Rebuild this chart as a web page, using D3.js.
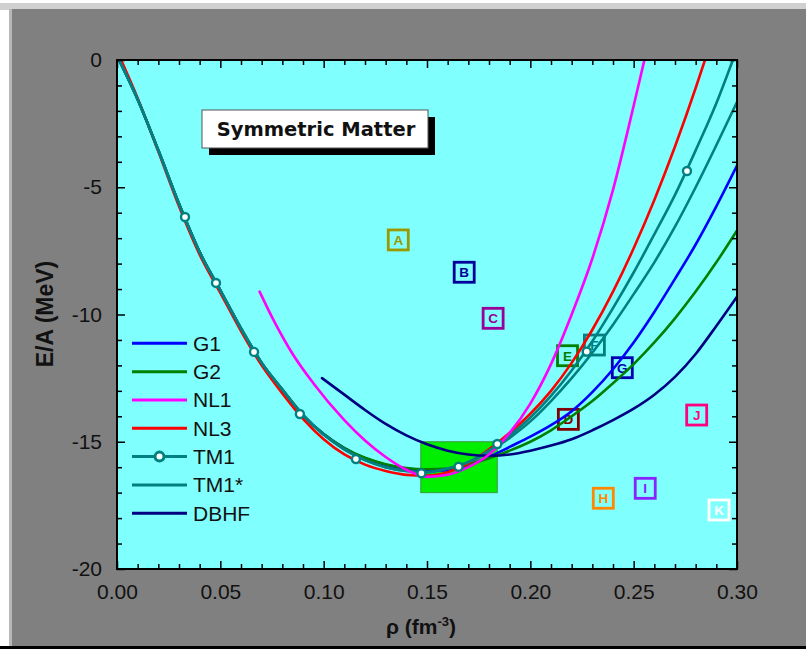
<!DOCTYPE html>
<html>
<head>
<meta charset="utf-8">
<script src="https://cdn.jsdelivr.net/npm/d3@7"></script>
<style>
  body { margin: 0; background: #ffffff; }
  svg { display: block; }
</style>
</head>
<body>
<svg id="chart" width="806" height="649"></svg>
<script>
// ---------------- DATA ----------------
const xTicks = [0.00, 0.05, 0.10, 0.15, 0.20, 0.25, 0.30];
const xTickLabels = ["0.00", "0.05", "0.10", "0.15", "0.20", "0.25", "0.30"];
const yTicks = [0, -5, -10, -15, -20];
const yTickLabels = ["0", "-5", "-10", "-15", "-20"];

const seriesNames = ["G1", "G2", "NL1", "NL3", "TM1", "TM1*", "DBHF"];
const seriesColors = ["#0000ff", "#008000", "#ff00ff", "#ff0000", "#008080", "#008080", "#000080"];

const G1 = [[0.001,0],[0.01,-1.55],[0.02,-3.55],[0.03,-5.65],[0.04,-7.55],[0.05,-9.05],[0.06,-10.55],[0.07,-11.9],[0.08,-12.95],[0.09,-13.95],[0.10,-14.7],[0.11,-15.25],[0.12,-15.65],[0.13,-15.9],[0.14,-16.08],[0.15,-16.15],[0.16,-16.12],[0.17,-15.92],[0.18,-15.6],[0.19,-15.2],[0.20,-14.8],[0.21,-14.35],[0.22,-13.8],[0.23,-13.05],[0.24,-12.15],[0.25,-11.1],[0.26,-9.9],[0.27,-8.6],[0.28,-7.25],[0.29,-5.75],[0.30,-4.15]];
const G2 = [[0.001,0],[0.01,-1.55],[0.02,-3.55],[0.03,-5.65],[0.04,-7.55],[0.05,-9.05],[0.06,-10.55],[0.07,-11.9],[0.08,-12.95],[0.09,-13.95],[0.10,-14.7],[0.11,-15.25],[0.12,-15.63],[0.13,-15.88],[0.14,-16.03],[0.15,-16.08],[0.16,-16.05],[0.17,-15.9],[0.18,-15.65],[0.19,-15.35],[0.20,-15.0],[0.21,-14.55],[0.22,-14.0],[0.23,-13.4],[0.24,-12.7],[0.25,-11.95],[0.26,-11.1],[0.27,-10.15],[0.28,-9.1],[0.29,-7.95],[0.30,-6.7]];
const NL1 = [[0.069,-9.1],[0.075,-10.1],[0.085,-11.55],[0.095,-12.7],[0.11,-14.15],[0.12,-14.95],[0.13,-15.6],[0.14,-16.1],[0.15,-16.38],[0.16,-16.3],[0.17,-16.0],[0.18,-15.5],[0.19,-14.65],[0.20,-13.5],[0.21,-11.95],[0.22,-10.0],[0.23,-7.8],[0.24,-5.1],[0.25,-1.8],[0.2552,0]];
const NL3 = [[0.002,0],[0.01,-1.5],[0.02,-3.6],[0.03,-5.75],[0.04,-7.65],[0.05,-9.15],[0.06,-10.65],[0.07,-12.0],[0.08,-13.1],[0.09,-14.1],[0.10,-14.9],[0.11,-15.5],[0.12,-15.9],[0.13,-16.15],[0.14,-16.3],[0.15,-16.33],[0.16,-16.2],[0.17,-15.85],[0.18,-15.3],[0.19,-14.65],[0.20,-13.9],[0.21,-13.0],[0.22,-11.9],[0.23,-10.6],[0.24,-9.1],[0.25,-7.4],[0.26,-5.5],[0.27,-3.4],[0.28,-1.1],[0.2845,0]];
const TM1 = [[0.001,0],[0.01,-1.55],[0.02,-3.55],[0.03,-5.65],[0.04,-7.55],[0.05,-9.05],[0.06,-10.55],[0.07,-11.9],[0.08,-12.95],[0.09,-13.95],[0.10,-14.72],[0.11,-15.3],[0.12,-15.72],[0.13,-16.0],[0.14,-16.15],[0.15,-16.2],[0.16,-16.05],[0.17,-15.8],[0.18,-15.35],[0.19,-14.75],[0.20,-14.05],[0.21,-13.2],[0.22,-12.2],[0.23,-11.05],[0.24,-9.75],[0.25,-8.35],[0.26,-6.85],[0.27,-5.3],[0.28,-3.55],[0.29,-1.7],[0.298,0]];
const TM1star = [[0.001,0],[0.01,-1.55],[0.02,-3.55],[0.03,-5.65],[0.04,-7.55],[0.05,-9.05],[0.06,-10.55],[0.07,-11.9],[0.08,-12.95],[0.09,-13.95],[0.10,-14.72],[0.11,-15.3],[0.12,-15.72],[0.13,-16.0],[0.14,-16.15],[0.15,-16.2],[0.16,-16.05],[0.17,-15.8],[0.18,-15.4],[0.19,-14.85],[0.20,-14.2],[0.21,-13.4],[0.22,-12.5],[0.23,-11.5],[0.24,-10.4],[0.25,-9.2],[0.26,-7.95],[0.27,-6.55],[0.28,-5.0],[0.29,-3.35],[0.30,-1.65]];
const DBHF = [[0.0992,-12.5],[0.11,-13.15],[0.12,-13.75],[0.13,-14.3],[0.14,-14.75],[0.15,-15.1],[0.16,-15.35],[0.17,-15.5],[0.18,-15.55],[0.19,-15.5],[0.20,-15.35],[0.21,-15.15],[0.22,-14.9],[0.23,-14.55],[0.24,-14.15],[0.25,-13.7],[0.26,-13.15],[0.27,-12.45],[0.28,-11.55],[0.29,-10.45],[0.30,-9.3]];

// TM1 symbol positions
const tm1MarkerRho = [0.0329, 0.0479, 0.0663, 0.0885, 0.1156, 0.1473, 0.1653, 0.184, 0.2273, 0.2758];
const tm1MarkerE   = [-6.17, -8.76, -11.47, -13.91, -15.68, -16.24, -15.98, -15.09, -11.46, -4.36];

// Lettered data boxes
const boxLetters = ["A", "B", "C", "D", "E", "F", "G", "H", "I", "J", "K"];
const boxRho     = [0.1361, 0.168, 0.182, 0.2184, 0.218, 0.231, 0.2445, 0.2353, 0.2556, 0.2805, 0.2913];
const boxE       = [-7.07, -8.34, -10.15, -14.12, -11.62, -11.2, -12.09, -17.22, -16.83, -13.95, -17.68];
const boxColors  = ["#999900", "#000099", "#990099", "#800000", "#008000", "#008080", "#0000b0", "#ff8800", "#8822ff", "#ff0080", "#ffffff"];

// Saturation region
const satRho = [0.147, 0.184];
const satE = [-15.0, -17.0];

const titleText = "Symmetric Matter";

// ---------------- DRAW ----------------
const svg = d3.select("#chart");
const W = 806, H = 649;
const L = 117, R = 737, T = 60, B = 569;

// Page background
svg.append("rect").attr("x", 0).attr("y", 0).attr("width", W).attr("height", H).attr("fill", "#ffffff");
svg.append("rect").attr("x", 0).attr("y", 3).attr("width", W).attr("height", 7).attr("fill", "#d0d0d0");
svg.append("rect").attr("x", 9).attr("y", 9).attr("width", W - 9).attr("height", H - 9).attr("fill", "#b8b8b8");
svg.append("rect").attr("x", 12).attr("y", 9).attr("width", W - 12).attr("height", H - 9).attr("fill", "#808080");
svg.append("rect").attr("x", 0).attr("y", 646).attr("width", W).attr("height", 3).attr("fill", "#000000");

const x = d3.scaleLinear().domain([0, 0.30]).range([L, R]);
const y = d3.scaleLinear().domain([-20, 0]).range([B, T]);

// Plot area
svg.append("rect").attr("x", L).attr("y", T).attr("width", R - L).attr("height", B - T).attr("fill", "#80ffff");

svg.append("defs").append("clipPath").attr("id", "clip")
  .append("rect").attr("x", L).attr("y", T).attr("width", R - L).attr("height", B - T);

const plot = svg.append("g").attr("clip-path", "url(#clip)");

// Saturation rectangle
plot.append("rect")
  .attr("x", x(satRho[0])).attr("y", y(satE[0]))
  .attr("width", x(satRho[1]) - x(satRho[0]))
  .attr("height", y(satE[1]) - y(satE[0]))
  .attr("fill", "#00ee00").attr("stroke", "#3a9a3a").attr("stroke-width", 1);

// Title box
const tb = { x: 202, y: 110, w: 226, h: 38 };
svg.append("rect").attr("x", tb.x + 7).attr("y", tb.y + 7).attr("width", tb.w).attr("height", tb.h).attr("fill", "#000");
svg.append("rect").attr("x", tb.x).attr("y", tb.y).attr("width", tb.w).attr("height", tb.h)
  .attr("fill", "#fff").attr("stroke", "#555").attr("stroke-width", 1);
svg.append("text").attr("x", tb.x + tb.w / 2 + 1).attr("y", tb.y + 26)
  .attr("text-anchor", "middle")
  .attr("font-family", "DejaVu Sans, Verdana, sans-serif").attr("font-weight", "bold")
  .attr("font-size", 19.5).attr("fill", "#111").text(titleText);

// Lettered boxes
boxLetters.forEach((ltr, i) => {
  const cx = x(boxRho[i]), cy = y(boxE[i]);
  const g = plot.append("g");
  g.append("rect").attr("x", cx - 10).attr("y", cy - 10).attr("width", 20).attr("height", 20)
    .attr("fill", "none").attr("stroke", boxColors[i]).attr("stroke-width", 2.8);
  g.append("text").attr("x", cx).attr("y", cy + 5).attr("text-anchor", "middle")
    .attr("font-family", "Liberation Sans, Arial, sans-serif").attr("font-weight", "bold")
    .attr("font-size", 13.5).attr("fill", boxColors[i]).text(ltr);
});

// Curves
const line = d3.line().x(d => x(d[0])).y(d => y(d[1])).curve(d3.curveMonotoneX);
const allSeries = [G1, G2, NL1, NL3, TM1, TM1star, DBHF];
const order = [0, 1, 3, 5, 4, 6, 2];
order.forEach(i => {
  plot.append("path").datum(allSeries[i])
    .attr("d", line).attr("fill", "none")
    .attr("stroke", seriesColors[i]).attr("stroke-width", 2.6)
    .attr("stroke-linejoin", "round").attr("stroke-linecap", "round");
});

// TM1 markers
plot.selectAll("circle.tm1").data(tm1MarkerRho).join("circle")
  .attr("class", "tm1")
  .attr("cx", d => x(d)).attr("cy", (d, i) => y(tm1MarkerE[i]))
  .attr("r", 4).attr("fill", "#ffffff").attr("stroke", "#008080").attr("stroke-width", 2.4);

// Axes
const tickFont = "Liberation Sans, Arial, sans-serif";
const minorX = d3.range(0, 31).map(k => k / 100).filter(v => Math.round(v * 100) % 5 !== 0);
const minorY = d3.range(-20, 1).filter(v => v % 5 !== 0);

function styleAxis(g) {
  g.select(".domain").remove();
  g.selectAll(".tick line").attr("stroke", "#000").attr("stroke-width", 1.5);
  g.selectAll(".tick text").attr("font-family", tickFont).attr("font-size", 21).attr("fill", "#111");
}

svg.append("g").attr("transform", `translate(0,${B})`)
  .call(d3.axisBottom(x).tickValues(xTicks).tickSize(-8).tickPadding(15)
    .tickFormat((d, i) => xTickLabels[i]))
  .call(styleAxis);
svg.append("g").attr("transform", `translate(0,${B})`)
  .call(d3.axisBottom(x).tickValues(minorX).tickSize(-5).tickFormat(""))
  .call(styleAxis);
svg.append("g").attr("transform", `translate(0,${T})`)
  .call(d3.axisTop(x).tickValues(xTicks).tickSize(-8).tickFormat(""))
  .call(styleAxis);
svg.append("g").attr("transform", `translate(0,${T})`)
  .call(d3.axisTop(x).tickValues(minorX).tickSize(-5).tickFormat(""))
  .call(styleAxis);

svg.append("g").attr("transform", `translate(${L},0)`)
  .call(d3.axisLeft(y).tickValues(yTicks).tickSize(-8).tickPadding(15)
    .tickFormat((d, i) => yTickLabels[i]))
  .call(styleAxis);
svg.append("g").attr("transform", `translate(${L},0)`)
  .call(d3.axisLeft(y).tickValues(minorY).tickSize(-5).tickFormat(""))
  .call(styleAxis);
svg.append("g").attr("transform", `translate(${R},0)`)
  .call(d3.axisRight(y).tickValues(yTicks).tickSize(-8).tickFormat(""))
  .call(styleAxis);
svg.append("g").attr("transform", `translate(${R},0)`)
  .call(d3.axisRight(y).tickValues(minorY).tickSize(-5).tickFormat(""))
  .call(styleAxis);

// Plot frame
svg.append("rect").attr("x", L).attr("y", T).attr("width", R - L).attr("height", B - T)
  .attr("fill", "none").attr("stroke", "#000").attr("stroke-width", 2);

// Axis titles
svg.append("text")
  .attr("transform", `translate(53,314) rotate(-90)`)
  .attr("text-anchor", "middle")
  .attr("font-family", "Liberation Sans, Arial, sans-serif").attr("font-weight", "bold")
  .attr("font-size", 23).attr("fill", "#111").text("E/A (MeV)");

const xt = svg.append("text").attr("x", 421).attr("y", 634).attr("text-anchor", "middle")
  .attr("font-family", "Liberation Sans, Arial, sans-serif").attr("font-weight", "bold")
  .attr("font-size", 21).attr("fill", "#111");
xt.append("tspan").text("ρ (fm");
xt.append("tspan").attr("font-size", 13).attr("dy", -8).text("-3");
xt.append("tspan").attr("dy", 8).text(")");

// Legend
const legX0 = 132, legX1 = 187, legY0 = 343.3, legDy = 28.33;
seriesNames.forEach((name, i) => {
  const ly = legY0 + i * legDy;
  svg.append("line").attr("x1", legX0).attr("x2", legX1).attr("y1", ly).attr("y2", ly)
    .attr("stroke", seriesColors[i]).attr("stroke-width", 3);
  if (name === "TM1") {
    svg.append("circle").attr("cx", (legX0 + legX1) / 2).attr("cy", ly).attr("r", 4.5)
      .attr("fill", "#fff").attr("stroke", "#008080").attr("stroke-width", 3);
  }
  svg.append("text").attr("x", 193).attr("y", ly + 7.5)
    .attr("font-family", "Liberation Sans, Arial, sans-serif")
    .attr("font-size", 21).attr("fill", "#111").text(name);
});
</script>
</body>
</html>
